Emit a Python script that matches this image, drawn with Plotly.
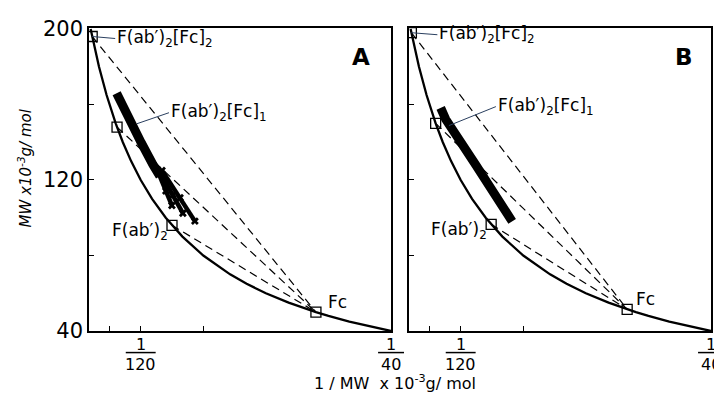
import plotly.graph_objects as go

# ---------------- data ----------------
# theoretical curve: MW plotted against 1/MW (kDa)
curve_mw = [40, 42, 45, 48, 50, 55, 60, 65, 70, 80, 90, 100, 110, 120, 130, 140, 150, 165, 180, 200]

species = ["F(ab′)<sub>2</sub>[Fc]<sub>2</sub>", "F(ab′)<sub>2</sub>[Fc]<sub>1</sub>", "F(ab′)<sub>2</sub>", "Fc"]
mw_A = [196, 148, 96, 50]
mw_B = [198, 150, 96.5, 51.5]

# observed data band (x = 1/MW, y = MW)
bandA_x = [0.00673, 0.00751, 0.00835, 0.00915, 0.00961]
bandA_y = [165.9, 152.2, 140.0, 128.1, 122.0]
streakA1_x = [0.00950, 0.01001, 0.01041]
streakA1_y = [124.0, 114.2, 106.5]
streakA2_x = [0.00961, 0.01048, 0.01114]
streakA2_y = [124.0, 112.2, 102.4]
streakA3_x = [0.00975, 0.01095, 0.01194]
streakA3_y = [125.0, 110.6, 98.2]

bandB_x = [0.00700, 0.00733, 0.00933, 0.01066, 0.01176]
bandB_y = [158.2, 152.2, 128.1, 112.7, 98.1]

x_tickvals = [1 / 160, 1 / 120, 1 / 80, 1 / 40]
x_frac_labels = {1 / 120: "120", 1 / 40: "40"}
y_tickvals = [40, 80, 120, 160, 200]
y_ticktext = ["40", "", "120", "", "200"]

X_RANGE = [0.00489, 0.025]
Y_RANGE = [40, 200.5]

FONT = "DejaVu Sans"
# the page places the figure 8px from the top-left corner
W, H = 714, 394
ML, MR, MT, MB = 81, 9, 14, 71
PW = W - ML - MR
PH = H - MT - MB
PLOT_LEFT, PLOT_BOTTOM = 89, 331  # plot-area position on the page
domA = [0.0, 303 / PW]
domB = [(410 - PLOT_LEFT) / PW, 1.0]

def pxx(px):
    return (px - PLOT_LEFT) / PW

def pxy(py):
    return (PLOT_BOTTOM - py) / PH

fig = go.Figure()

def add_panel(xa, ya, mw, band_x, band_y, streaks):
    cx = [1 / m for m in curve_mw]
    fig.add_trace(go.Scatter(x=cx, y=curve_mw, mode="lines", xaxis=xa, yaxis=ya,
                             line=dict(color="black", width=2.3), showlegend=False, hoverinfo="skip"))
    fc = mw[3]
    for m in mw[:3]:
        fig.add_trace(go.Scatter(x=[1 / m, 1 / fc], y=[m, fc], mode="lines", xaxis=xa, yaxis=ya,
                                 line=dict(color="black", width=1.2, dash="8px,5px"),
                                 showlegend=False, hoverinfo="skip"))
    fig.add_trace(go.Scatter(x=band_x, y=band_y, mode="lines", xaxis=xa, yaxis=ya,
                             line=dict(color="black", width=9), showlegend=False, hoverinfo="skip"))
    for sx, sy in streaks:
        fig.add_trace(go.Scatter(x=sx, y=sy, mode="lines+markers", xaxis=xa, yaxis=ya,
                                 line=dict(color="black", width=4.5),
                                 marker=dict(symbol="x", size=7, color="black"),
                                 showlegend=False, hoverinfo="skip"))
    fig.add_trace(go.Scatter(x=[1 / m for m in mw], y=mw, mode="markers", xaxis=xa, yaxis=ya,
                             marker=dict(symbol="square-open", size=10, color="black",
                                         line=dict(width=1.3, color="black")),
                             showlegend=False, hoverinfo="skip"))

add_panel("x", "y", mw_A, bandA_x, bandA_y,
          [(streakA1_x, streakA1_y), (streakA2_x, streakA2_y), (streakA3_x, streakA3_y)])
add_panel("x2", "y2", mw_B, bandB_x, bandB_y, [])

axis_common = dict(showline=True, linecolor="black", linewidth=1.6, mirror=True,
                   ticks="inside", ticklen=5, tickwidth=1.3, tickcolor="black",
                   showgrid=False, zeroline=False)

fig.update_layout(
    width=W, height=H, margin=dict(l=ML, r=MR, t=MT, b=MB),
    plot_bgcolor="white", paper_bgcolor="white",
    font=dict(family=FONT, color="black"),
    xaxis=dict(domain=domA, range=X_RANGE, tickvals=x_tickvals, ticktext=[""] * 4, **axis_common),
    xaxis2=dict(domain=domB, range=X_RANGE, tickvals=x_tickvals, ticktext=[""] * 4, anchor="y2", **axis_common),
    yaxis=dict(domain=[0, 1], range=Y_RANGE, tickvals=y_tickvals, ticktext=y_ticktext,
               tickfont=dict(size=21, family=FONT), **axis_common),
    yaxis2=dict(domain=[0, 1], range=Y_RANGE, tickvals=y_tickvals, showticklabels=False,
                anchor="x2", **axis_common),
)

def to_paper_x(x, dom):
    return dom[0] + (x - X_RANGE[0]) / (X_RANGE[1] - X_RANGE[0]) * (dom[1] - dom[0])

ann = []
shapes = []
for xr, dom in (("x", domA), ("x2", domB)):
    for xv, den in x_frac_labels.items():
        ann.append(dict(x=xv, xref=xr, y=0, yref="paper", text="1", showarrow=False,
                        xanchor="center", yanchor="middle", yshift=-13, font=dict(size=16)))
        ann.append(dict(x=xv, xref=xr, y=0, yref="paper", text=den, showarrow=False,
                        xanchor="center", yanchor="middle", yshift=-33, font=dict(size=16)))
        half = 15 if len(den) == 3 else 13
        px = to_paper_x(xv, dom)
        shapes.append(dict(type="line", xref="paper", yref="paper",
                           x0=px - half / PW, x1=px + half / PW,
                           y0=-22 / PH, y1=-22 / PH, line=dict(color="black", width=1.5)))

lab_font = dict(size=17, family=FONT)
ann += [
    dict(x=1 / mw_A[0], y=mw_A[0], xref="x", yref="y", text=species[0], showarrow=True,
         arrowhead=0, arrowwidth=1, ax=23, ay=2, xanchor="left", font=lab_font),
    dict(x=0.008084, y=149.8, xref="x", yref="y", text=species[1], showarrow=True,
         arrowhead=0, arrowwidth=1, ax=32, ay=-11, xanchor="left", font=lab_font),
    dict(x=1 / mw_A[2], y=mw_A[2], xref="x", yref="y", text=species[2], showarrow=False,
         xanchor="right", xshift=-2, yshift=-6, font=lab_font),
    dict(x=1 / mw_A[3], y=mw_A[3], xref="x", yref="y", text=species[3], showarrow=False,
         xanchor="left", xshift=10, yshift=10, font=lab_font),
    dict(x=1 / mw_B[0], y=mw_B[0], xref="x2", yref="y2", text=species[0], showarrow=True,
         arrowhead=0, arrowwidth=1, ax=26, ay=2, xanchor="left", font=lab_font),
    dict(x=0.00755, y=148.8, xref="x2", yref="y2", text=species[1], showarrow=True,
         arrowhead=0, arrowwidth=1, ax=47, ay=-19, xanchor="left", font=lab_font),
    dict(x=1 / mw_B[2], y=mw_B[2], xref="x2", yref="y2", text=species[2], showarrow=False,
         xanchor="right", xshift=-2, yshift=-6, font=lab_font),
    dict(x=1 / mw_B[3], y=mw_B[3], xref="x2", yref="y2", text=species[3], showarrow=False,
         xanchor="left", xshift=7, yshift=10, font=lab_font),
    dict(x=pxx(362), y=pxy(52), xref="paper", yref="paper", text="<b>A</b>",
         xanchor="center", yanchor="middle", showarrow=False, font=dict(size=23, family=FONT)),
    dict(x=pxx(686), y=pxy(52), xref="paper", yref="paper", text="<b>B</b>",
         xanchor="center", yanchor="middle", showarrow=False, font=dict(size=23, family=FONT)),
    dict(x=pxx(25), y=pxy(165), xref="paper", yref="paper",
         text="<i>MW x10<sup>-3</sup>g/ mol</i>", textangle=-90, showarrow=False,
         xanchor="center", yanchor="middle", font=dict(size=15, family=FONT)),
    dict(x=pxx(396), y=pxy(384), xref="paper", yref="paper",
         text="1 / MW  x 10<sup>-3</sup>g/ mol", showarrow=False,
         xanchor="center", yanchor="middle", font=dict(size=16, family=FONT)),
]
fig.update_layout(annotations=ann, shapes=shapes)

fig.write_html("out.html")
